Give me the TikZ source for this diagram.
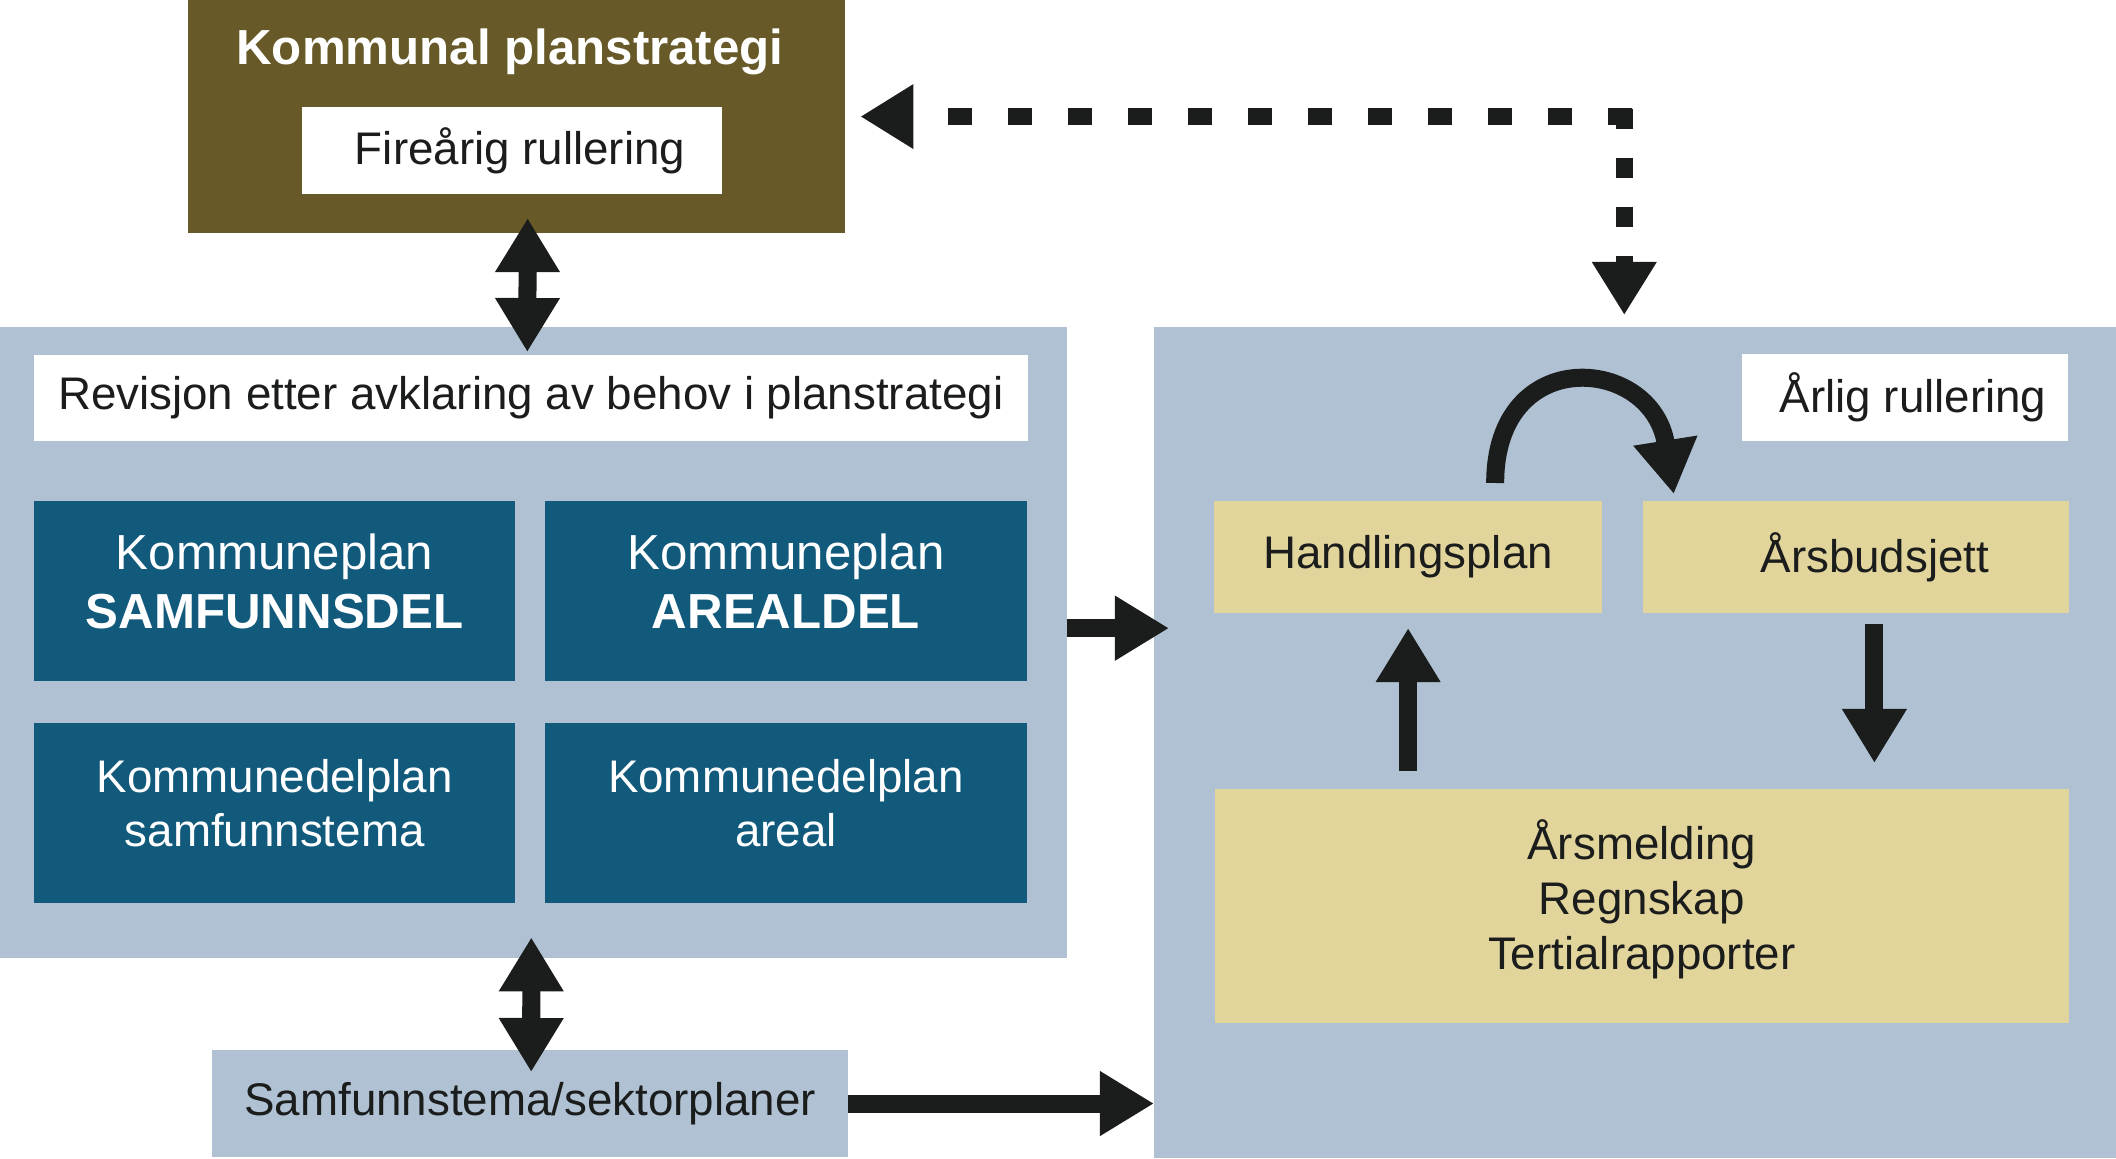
\documentclass[tikz,border=0pt]{standalone}
\usepackage{fontspec}
\setmainfont{Liberation Sans}
\usetikzlibrary{arrows.meta, positioning}
\definecolor{plbrown}{RGB}{104, 90, 40}
\definecolor{pllight}{RGB}{175, 193, 210}
\definecolor{pldark}{RGB}{17, 90, 124}
\definecolor{plsand}{RGB}{226, 213, 156}
\definecolor{plink}{RGB}{27, 28, 28}

\begin{document}
\begin{tikzpicture}[x=0.01cm, y=-0.01cm,
    box/.style={anchor=north west, inner sep=0pt, outer sep=0pt, align=center,
                text=plink, font=\fontsize{13}{15.6}\selectfont},
    area/.style={box, fill=pllight},
    lbl/.style={box, fill=white},
    plan/.style={box, fill=pldark, text=white, minimum width=48.1mm, minimum height=18mm,
                 text depth=2mm},
    yel/.style={box, fill=plsand},
    arr/.style={-{Triangle[length=5.4mm, width=6.1mm]}, line width=1.8mm, plink},
    dbl/.style={{Triangle[length=5.4mm, width=6.1mm]}-{Triangle[length=5.4mm, width=6.1mm]},
                line width=1.8mm, plink},
    dots/.style={-{Triangle[length=5.3mm, width=6.1mm]}, line width=1.7mm, plink}
  ]
    \useasboundingbox (0,0) rectangle (2116,1158);

    \node[box, fill=plbrown, minimum width=65.7mm, minimum height=23.3mm] (kps) at (188,0) {};
    \node[anchor=base, text=white, font=\bfseries\fontsize{14}{17}\selectfont] (kpsname) at (510,65) {Kommunal planstrategi};
    \node[lbl, minimum width=42mm, minimum height=8.7mm] (fire) at (302,107) {\hspace*{1.6mm}Fireårig rullering};

    \node[area, minimum width=106.6mm, minimum height=63.1mm] (kplan) at (0,327) {};
    \node[lbl, minimum width=99.3mm, minimum height=8.6mm] (rev) at (34,355) {Revisjon etter avklaring av behov i planstrategi};
    \node[plan, font=\fontsize{14}{16.8}\selectfont] (ksam) at (34,501) {Kommuneplan\\\textbf{SAMFUNNSDEL}};
    \node[plan, font=\fontsize{14}{16.8}\selectfont, right=3mm of ksam] (kareal) {Kommuneplan\\\textbf{AREALDEL}};
    \node[plan, font=\fontsize{13}{15.4}\selectfont, below=4.2mm of ksam] (kdsam) {Kommunedelplan\\samfunnstema};
    \node[plan, font=\fontsize{13}{15.4}\selectfont, below=4.2mm of kareal] (kdareal) {Kommunedelplan\\areal};

    \node[area, minimum width=63.6mm, minimum height=10.7mm] (sekt) at (212,1050) {Samfunnstema/sektorplaner};

    \node[area, minimum width=96.2mm, minimum height=83.1mm] (aar) at (1154,327) {};
    \node[lbl, minimum width=32.6mm, minimum height=8.7mm] (arl) at (1742,354) {\hspace*{1.6mm}Årlig rullering};
    \node[yel, minimum width=38.8mm, minimum height=11.2mm] (hand) at (1214,501) {Handlingsplan};
    \node[yel, minimum width=42.5mm, minimum height=11.2mm, right=4.1mm of hand] (buds) {\hspace*{3.8mm}Årsbudsjett};
    \node[yel, minimum width=85.3mm, minimum height=23.4mm, text depth=2.3mm] (mld) at (1215,789) {Årsmelding\\Regnskap\\Tertialrapporter};

    \coordinate (hj) at ([xshift=-1.1mm]kps.east -| aar.north);

    \draw[dbl] ([xshift=1.1mm, yshift=1.5mm]kps.south) -- ([xshift=-0.6mm, yshift=-2.5mm]kplan.north);
    \draw[dbl] ([xshift=-0.2mm, yshift=2.1mm]kplan.south) -- ([xshift=0.1mm, yshift=-2.2mm]sekt.north);
    \draw[arr] ([yshift=1.45mm]kplan.east) -- ([xshift=1.5mm, yshift=1.45mm]kplan.east -| aar.west);
    \draw[arr] (sekt.east) -- (sekt.east -| aar.west);
    \draw[arr] ([yshift=1.8mm]mld.north -| hand.south) -- ([yshift=-1.5mm]hand.south);
    \draw[arr] ([xshift=1.85mm, yshift=-1.1mm]buds.south) -- ([xshift=1.85mm, yshift=2.6mm]mld.north -| buds.south);
    \draw[arr] ([xshift=8.7mm, yshift=1.8mm]hand.north) to[out=90, in=99, looseness=2] ([xshift=-18.2mm, yshift=0.7mm]buds.north);
    \draw[dots, dash pattern=on 2.4mm off 3.6mm] ([xshift=0.8mm]hj) -- ([xshift=1.5mm]kps.east);
    \draw[dots, dash pattern=on 2mm off 2.9mm] ([yshift=0.8mm]hj) -- ([xshift=-1.1mm, yshift=1.2mm]aar.north);
  \end{tikzpicture}
\end{document}
